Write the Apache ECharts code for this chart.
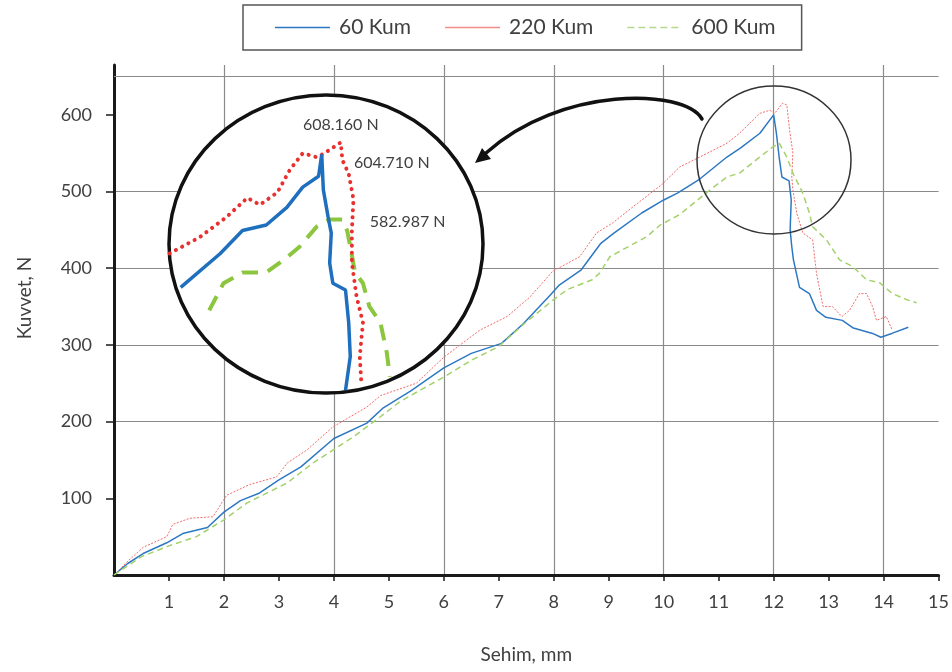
<!DOCTYPE html>
<html lang="tr">
<head>
    <meta charset="UTF-8">
    <title>Kuvvet - Sehim</title>
    <script src="https://cdn.jsdelivr.net/npm/echarts@6/dist/echarts.min.js"></script>
    <style>
        html, body { margin: 0; padding: 0; background: #fff; }
        #chart { width: 952px; height: 672px; }
    </style>
</head>
<body>
<div id="chart"></div>
<script>
    // seri adlari
    var seriesNames = ['60 Kum', '220 Kum', '600 Kum'];

    // ana grafik verileri [sehim mm, kuvvet N]
    var kum60 = [[0, 0], [0.25, 15], [0.53, 28], [0.96, 42], [1.25, 54], [1.7, 62], [2, 82], [2.3, 97], [2.65, 107],
        [3, 124], [3.4, 141], [4, 178], [4.6, 198], [4.9, 218], [5.4, 240], [6, 270], [6.5, 289], [7.05, 302],
        [7.45, 328], [7.95, 366], [8.1, 378], [8.5, 398], [8.85, 432], [9.1, 446], [9.6, 472], [10, 489],
        [10.25, 498], [10.65, 516], [11.15, 545], [11.4, 557], [11.75, 576], [12, 600], [12.05, 576], [12.1, 545],
        [12.15, 519], [12.28, 514], [12.32, 489], [12.3, 450], [12.33, 428], [12.36, 411], [12.47, 375],
        [12.65, 367], [12.78, 345], [12.95, 336], [13.25, 332], [13.45, 322], [13.8, 315], [13.95, 310],
        [14.15, 315], [14.45, 323]];
    var kum220 = [[0, 0], [0.25, 18], [0.53, 36], [0.96, 50], [1.07, 66], [1.38, 74], [1.8, 76], [2.05, 104],
        [2.47, 118], [2.96, 128], [3.15, 146], [3.51, 163], [3.98, 193], [4.6, 219], [4.85, 234], [5.5, 250],
        [6, 284], [6.65, 319], [7.15, 337], [7.56, 362], [7.98, 396], [8.47, 415], [8.78, 446], [9.07, 459],
        [9.44, 480], [9.98, 510], [10.29, 532], [10.6, 543], [11.15, 563], [11.38, 576], [11.75, 602],
        [11.93, 606], [12.02, 602], [12.16, 615], [12.24, 613], [12.29, 580], [12.35, 550], [12.33, 519],
        [12.35, 502], [12.42, 472], [12.53, 446], [12.71, 437], [12.78, 393], [12.9, 350], [13.07, 350],
        [13.24, 337], [13.38, 345], [13.56, 367], [13.69, 367], [13.8, 350], [13.87, 332], [14.05, 337],
        [14.16, 319]];
    var kum600 = [[0, 0], [0.5, 24], [1, 38], [1.5, 50], [2, 72], [2.42, 94], [3.15, 120], [3.62, 146],
        [4.35, 180], [4.84, 206], [5.2, 226], [5.62, 243], [6, 258], [6.5, 280], [7, 298], [7.5, 330],
        [7.98, 358], [8.24, 372], [8.7, 385], [8.84, 394], [9.02, 415], [9.25, 424], [9.69, 441], [9.93, 456],
        [10.29, 470], [10.84, 502], [11.15, 519], [11.38, 524], [11.75, 545], [11.98, 558], [12.1, 563],
        [12.24, 545], [12.35, 524], [12.53, 498], [12.65, 472], [12.71, 454], [12.96, 437], [13.2, 411],
        [13.44, 402], [13.69, 385], [13.93, 381], [14.16, 367], [14.42, 359], [14.6, 355]];

    // buyutulmus tepe bolgesi (daire icindeki cizim)
    var zoom60 = [[11.08, 478], [11.33, 503], [11.47, 520], [11.62, 524], [11.75, 537], [11.85, 552], [11.95, 560],
        [11.97, 576], [11.98, 550], [12.01, 530], [12.03, 518], [12.02, 496], [12.04, 481], [12.12, 476],
        [12.14, 452], [12.15, 427], [12.12, 402]];
    var zoom220 = [[11.01, 503], [11.2, 515], [11.37, 530], [11.5, 544], [11.58, 539], [11.69, 548], [11.77, 565],
        [11.85, 577], [11.94, 574], [12, 578], [12.09, 585], [12.1, 572], [12.14, 562], [12.17, 543],
        [12.16, 520], [12.16, 496], [12.19, 471], [12.23, 452], [12.21, 427], [12.22, 407]];
    var zoom600 = [[11.26, 461], [11.35, 481], [11.47, 489], [11.62, 489], [11.75, 500], [11.83, 508], [11.94, 523],
        [12.02, 528], [12.1, 528], [12.13, 520], [12.15, 508], [12.18, 489], [12.23, 481], [12.27, 464],
        [12.34, 452], [12.38, 430], [12.4, 412]];
    var peakLabels = ['608.160 N', '604.710 N', '582.987 N'];
    var peakAnchors = [[12.09, 585], [12.17, 570], [12.27, 526]];

    var yTicks = [100, 200, 300, 400, 500, 600];
    var topLine = 650;

    var font = 'Lato';
    var textColor = '#404040';
    var gridColor = '#8a8a8a';

    // lejant simgeleri: duz cizgi ve kesikli cizgi
    var solidIcon = 'path://M0,0H55V1.5H0Z';
    var dashIcon = 'path://M0,0H7V1.5H0Z M11,0H18V1.5H11Z M22,0H29V1.5H22Z M33,0H40V1.5H33Z M44,0H51V1.5H44Z M55,0H55.01V1.5H55Z';

    var option = {
        animation: false,
        textStyle: { fontFamily: font },
        legend: {
            left: 243,
            top: 5,
            padding: [12, 26, 12, 32],
            itemGap: 34,
            itemWidth: 55,
            itemHeight: 1.5,
            borderColor: '#555',
            borderWidth: 1.5,
            textStyle: { fontSize: 21, color: textColor, padding: [0, 0, 0, 4] },
            data: [
                { name: seriesNames[0], icon: solidIcon, itemStyle: { color: '#2e78c2' } },
                { name: seriesNames[1], icon: solidIcon, itemStyle: { color: '#f58a8a' } },
                { name: seriesNames[2], icon: dashIcon, itemStyle: { color: '#b5d98a' } }
            ]
        },
        grid: [
            { left: 114, right: 13, top: 65, bottom: 97 },
            { left: 168, top: 95, width: 317, height: 298 }
        ],
        xAxis: [
            {
                gridIndex: 0, type: 'value', min: 0, max: 15, interval: 1,
                name: 'Sehim, mm', nameLocation: 'middle', nameGap: 70,
                nameTextStyle: { fontSize: 19, color: textColor },
                axisLine: { onZero: false, lineStyle: { color: '#1a1a1a', width: 3 } },
                axisTick: { show: true, length: 6, lineStyle: { color: '#1a1a1a', width: 1.5 } },
                axisLabel: { showMinLabel: false, margin: 18, fontSize: 18, color: textColor },
                splitLine: { show: false }
            },
            {
                gridIndex: 0, type: 'value', min: 0, max: 15, interval: 2,
                axisLine: { show: false }, axisTick: { show: false }, axisLabel: { show: false },
                splitLine: { show: true, showMinLine: false, showMaxLine: false, lineStyle: { color: gridColor, width: 1.2 } }
            },
            { gridIndex: 1, type: 'value', min: 11, max: 13, show: false }
        ],
        yAxis: [
            {
                gridIndex: 0, type: 'value', min: 0, max: 665, interval: 100,
                name: 'Kuvvet, N', nameLocation: 'middle', nameGap: 80,
                nameTextStyle: { fontSize: 19, color: textColor, padding: [0, 0, 0, 44] },
                axisLine: { onZero: false, lineStyle: { color: '#1a1a1a', width: 3 } },
                axisTick: { show: true, length: 8, customValues: yTicks, lineStyle: { color: '#1a1a1a', width: 1.5 } },
                axisLabel: { showMinLabel: false, showMaxLabel: false, margin: 22, fontSize: 18, color: textColor },
                splitLine: { show: true, showMinLine: false, showMaxLine: false, lineStyle: { color: gridColor, width: 1.2 } }
            },
            { gridIndex: 1, type: 'value', min: 400, max: 620, show: false }
        ],
        series: [
            {
                name: seriesNames[0], type: 'line', xAxisIndex: 0, yAxisIndex: 0, showSymbol: false, symbol: 'none',
                color: '#2e78c2', lineStyle: { color: '#2e78c2', width: 1.5 }, data: kum60,
                markLine: {
                    silent: true, symbol: 'none', label: { show: false },
                    lineStyle: { color: gridColor, width: 1.2, type: 'solid' },
                    data: [{ yAxis: topLine }]
                }
            },
            {
                name: seriesNames[1], type: 'line', xAxisIndex: 0, yAxisIndex: 0, showSymbol: false, symbol: 'none',
                color: '#f26b6b', lineStyle: { color: '#f26b6b', width: 1, type: [2, 1.5] }, data: kum220
            },
            {
                name: seriesNames[2], type: 'line', xAxisIndex: 0, yAxisIndex: 0, showSymbol: false, symbol: 'none',
                color: '#a3d16a', lineStyle: { color: '#a3d16a', width: 1.5, type: [6, 4] }, data: kum600
            },
            {
                name: 'zoom600', type: 'line', xAxisIndex: 2, yAxisIndex: 1, showSymbol: false, symbol: 'none', z: 6,
                lineStyle: { color: '#8cc63f', width: 4, type: [16, 10] }, data: zoom600,
                markPoint: {
                    symbol: 'circle', symbolSize: 1, itemStyle: { color: 'rgba(0,0,0,0)' },
                    label: { show: true, position: 'right', distance: 0, fontSize: 16, color: textColor, fontFamily: font },
                    data: [{ coord: peakAnchors[2], value: peakLabels[2], label: { formatter: peakLabels[2] } }]
                }
            },
            {
                name: 'zoom220', type: 'line', xAxisIndex: 2, yAxisIndex: 1, showSymbol: false, symbol: 'none', z: 7,
                lineStyle: { color: '#e8302e', width: 4, type: [0.1, 7], cap: 'round' }, data: zoom220,
                markPoint: {
                    symbol: 'circle', symbolSize: 1, itemStyle: { color: 'rgba(0,0,0,0)' },
                    label: { show: true, position: 'top', distance: 9, fontSize: 16, color: textColor, fontFamily: font },
                    data: [{ coord: peakAnchors[0], value: peakLabels[0], label: { formatter: peakLabels[0] } }]
                }
            },
            {
                name: 'zoom60', type: 'line', xAxisIndex: 2, yAxisIndex: 1, showSymbol: false, symbol: 'none', z: 8,
                lineStyle: { color: '#1f6fbf', width: 3.5 }, data: zoom60,
                markPoint: {
                    symbol: 'circle', symbolSize: 1, itemStyle: { color: 'rgba(0,0,0,0)' },
                    label: { show: true, position: 'right', distance: 0, fontSize: 16, color: textColor, fontFamily: font },
                    data: [{ coord: peakAnchors[1], value: peakLabels[1], label: { formatter: peakLabels[1] } }]
                }
            }
        ],
        graphic: [
            // buyutme dairesi (beyaz zemin)
            {
                type: 'ellipse', z: 4,
                shape: { cx: 326, cy: 244, rx: 157, ry: 149 },
                style: { fill: '#fff', stroke: '#111', lineWidth: 3.5 }
            },
            // tepe noktasi cevresindeki daire
            {
                type: 'ellipse', z: 9,
                shape: { cx: 774, cy: 160, rx: 77, ry: 74 },
                style: { fill: null, stroke: '#333', lineWidth: 1.5 }
            },
            // ok
            {
                type: 'bezierCurve', z: 9,
                shape: { x1: 702, y1: 119, cpx1: 684, cpy1: 88, cpx2: 560, cpy2: 86, x2: 486, y2: 153 },
                style: { fill: null, stroke: '#111', lineWidth: 3.5, lineCap: 'round' }
            },
            {
                type: 'polygon', z: 9,
                shape: { points: [[475, 163], [491, 159], [482, 148]] },
                style: { fill: '#111' }
            }
        ]
    };

    var myChart = echarts.init(document.getElementById('chart'));
    myChart.setOption(option);
</script>
</body>
</html>
